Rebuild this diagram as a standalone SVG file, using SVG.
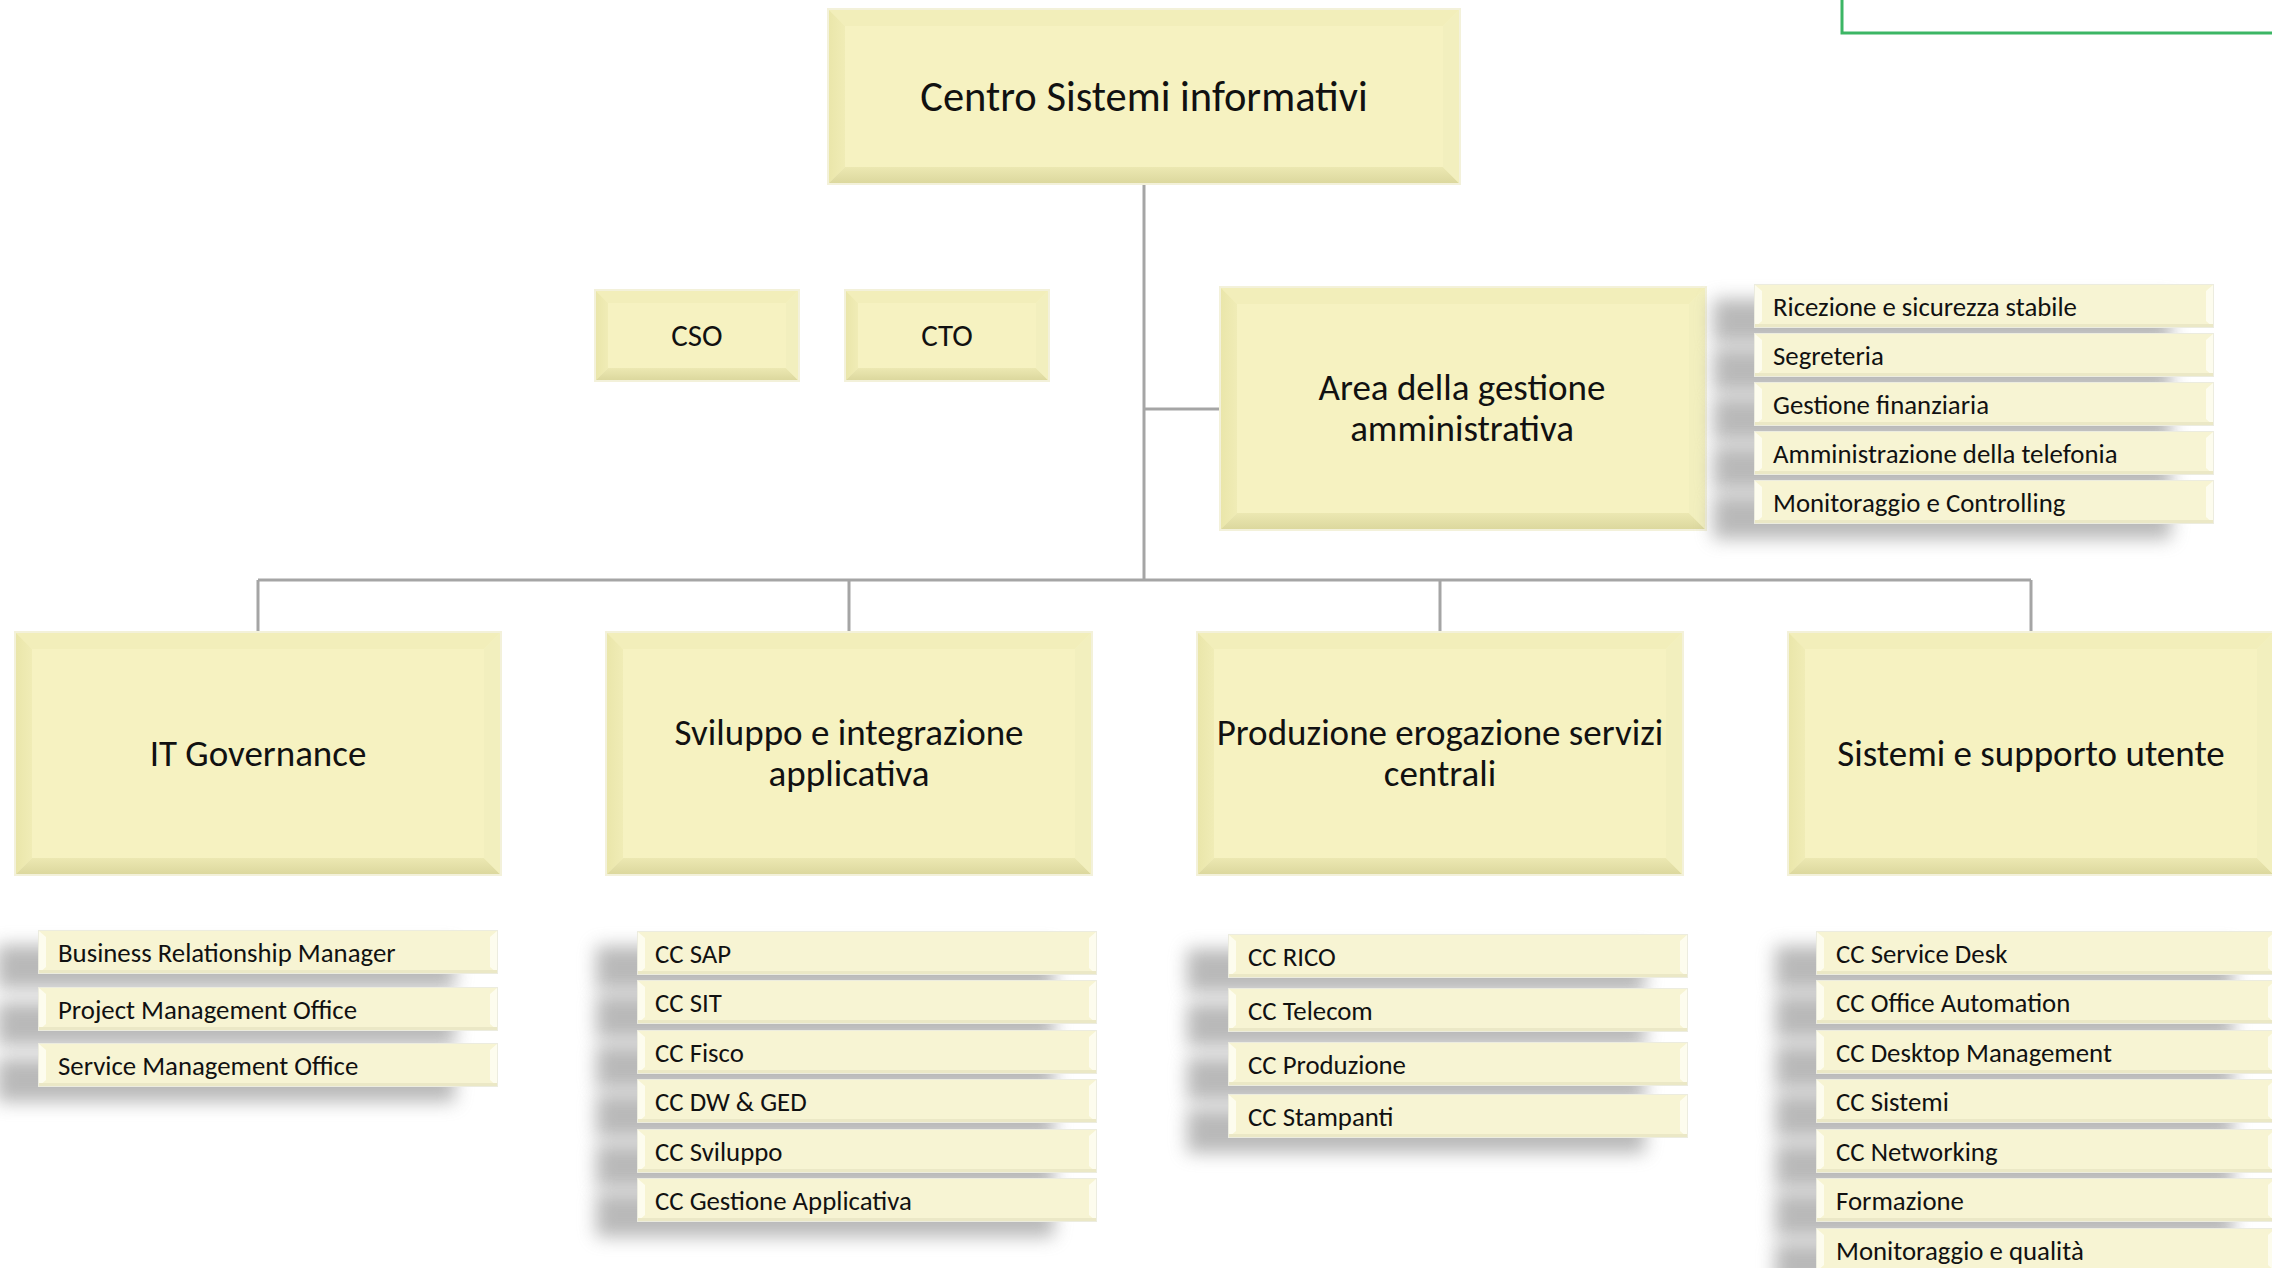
<svg xmlns="http://www.w3.org/2000/svg" xmlns:xlink="http://www.w3.org/1999/xlink" width="2272" height="1268" viewBox="0 0 2272 1268">
<style>
.t{font-family:"Carlito","Lato","Liberation Sans",sans-serif;fill:#111;}
.top{font-size:42.5px;text-anchor:middle;dominant-baseline:central;}
.h{font-size:37px;text-anchor:middle;dominant-baseline:central;}
.s{font-size:31px;text-anchor:middle;dominant-baseline:central;}
.i{font-size:26.8px;dominant-baseline:central;}
.con{stroke:#a5a5a5;stroke-width:3;fill:none;}
.shd{fill:#8a8a8a;opacity:0.6;filter:url(#blur);}
</style>
<defs>
<filter id="blur" x="-20%" y="-80%" width="140%" height="260%"><feGaussianBlur stdDeviation="9"/></filter>
<linearGradient id="lg" x1="0" x2="1" y1="0" y2="0"><stop offset="0" stop-color="#eae6aa"/><stop offset="1" stop-color="#f0ecb6"/></linearGradient>
<linearGradient id="bg" x1="0" x2="0" y1="0" y2="1"><stop offset="0" stop-color="#ece8b2"/><stop offset="1" stop-color="#dcd89e"/></linearGradient>
<g id="boxL">
<rect x="-2" y="-2" width="488" height="245" fill="#f3f1da"/>
<rect x="0" y="0" width="484" height="241" fill="#f6f2c1"/>
<polygon points="0,0 484,0 468,16 16,16" fill="#f2eeba"/>
<polygon points="0,0 16,16 16,225 0,241" fill="url(#lg)"/>
<polygon points="0,241 16,225 468,225 484,241" fill="url(#bg)"/>
<polygon points="484,0 484,241 468,225 468,16" fill="#f2efbe"/>
</g>
<g id="boxT">
<rect x="-2" y="-2" width="634" height="177" fill="#f3f1da"/>
<rect x="0" y="0" width="630" height="173" fill="#f6f2c1"/>
<polygon points="0,0 630,0 614,16 16,16" fill="#f2eeba"/>
<polygon points="0,0 16,16 16,157 0,173" fill="url(#lg)"/>
<polygon points="0,173 16,157 614,157 630,173" fill="url(#bg)"/>
<polygon points="630,0 630,173 614,157 614,16" fill="#f2efbe"/>
</g>
<g id="boxS">
<rect x="-2" y="-2" width="206" height="93" fill="#f3f1da"/>
<rect x="0" y="0" width="202" height="89" fill="#f6f2c1"/>
<polygon points="0,0 202,0 190,12 12,12" fill="#f2eeba"/>
<polygon points="0,0 12,12 12,77 0,89" fill="url(#lg)"/>
<polygon points="0,89 12,77 190,77 202,89" fill="url(#bg)"/>
<polygon points="202,0 202,89 190,77 190,12" fill="#f2efbe"/>
</g>
<g id="itemShadow">
<rect x="-42" y="14" width="458" height="44" class="shd"/>
</g>
<g id="item">
<rect x="-1" y="-1" width="460" height="44" fill="#ececdf"/>
<rect x="0" y="0" width="458" height="42" fill="#f7f4d3"/>
<polygon points="0,0 7,6 7,36 0,42" fill="#fdfcee"/>
<polygon points="458,0 451,6 451,36 458,42" fill="#fdfcee"/>
<rect x="0" y="39" width="458" height="3" fill="#ebe8c6"/>
</g>
</defs>

<rect x="1842" y="-10" width="460" height="43" fill="#ffffff" stroke="#3cb665" stroke-width="3"/>

<g id="connectors">
<path class="con" d="M1144,183 V580"/>
<path class="con" d="M1144,409 H1221"/>
<path class="con" d="M258,580 H2031"/>
<path class="con" d="M258,580 V633"/>
<path class="con" d="M849,580 V633"/>
<path class="con" d="M1440,580 V633"/>
<path class="con" d="M2031,580 V633"/>
</g>

<g id="n-centro">
<use xlink:href="#boxT" x="829" y="10"/>
<text class="t top" x="1144" y="96">Centro Sistemi informativi</text>
</g>
<g id="n-cso">
<use xlink:href="#boxS" x="596" y="291"/>
<text class="t s" x="697" y="335">CSO</text>
</g>
<g id="n-cto">
<use xlink:href="#boxS" x="846" y="291"/>
<text class="t s" x="947" y="335">CTO</text>
</g>
<g id="n-area">
<use xlink:href="#boxL" x="1221" y="288"/>
<text class="t h" x="1462" y="387">Area della gestione</text>
<text class="t h" x="1462" y="428">amministrativa</text>
</g>
<g id="l-area">
<use xlink:href="#itemShadow" x="1755" y="285"/>
<use xlink:href="#itemShadow" x="1755" y="334"/>
<use xlink:href="#itemShadow" x="1755" y="383"/>
<use xlink:href="#itemShadow" x="1755" y="432"/>
<use xlink:href="#itemShadow" x="1755" y="481"/>
<use xlink:href="#item" x="1755" y="285"/><text class="t i" x="1773" y="306">Ricezione e sicurezza stabile</text>
<use xlink:href="#item" x="1755" y="334"/><text class="t i" x="1773" y="355">Segreteria</text>
<use xlink:href="#item" x="1755" y="383"/><text class="t i" x="1773" y="404">Gestione finanziaria</text>
<use xlink:href="#item" x="1755" y="432"/><text class="t i" x="1773" y="453">Amministrazione della telefonia</text>
<use xlink:href="#item" x="1755" y="481"/><text class="t i" x="1773" y="502">Monitoraggio e Controlling</text>
</g>

<g id="n-itgov">
<use xlink:href="#boxL" x="16" y="633"/>
<text class="t h" x="258" y="753">IT Governance</text>
</g>
<g id="n-sviluppo">
<use xlink:href="#boxL" x="607" y="633"/>
<text class="t h" x="849" y="732">Sviluppo e integrazione</text>
<text class="t h" x="849" y="773">applicativa</text>
</g>
<g id="n-produzione">
<use xlink:href="#boxL" x="1198" y="633"/>
<text class="t h" x="1440" y="732">Produzione erogazione servizi</text>
<text class="t h" x="1440" y="773">centrali</text>
</g>
<g id="n-sistemi">
<use xlink:href="#boxL" x="1789" y="633"/>
<text class="t h" x="2031" y="753">Sistemi e supporto utente</text>
</g>

<g id="l-itgov">
<use xlink:href="#itemShadow" x="39" y="931"/>
<use xlink:href="#itemShadow" x="39" y="988"/>
<use xlink:href="#itemShadow" x="39" y="1044"/>
<use xlink:href="#item" x="39" y="931"/><text class="t i" x="58" y="952">Business Relationship Manager</text>
<use xlink:href="#item" x="39" y="988"/><text class="t i" x="58" y="1009">Project Management Office</text>
<use xlink:href="#item" x="39" y="1044"/><text class="t i" x="58" y="1065">Service Management Office</text>
</g>

<g id="l-sviluppo">
<use xlink:href="#itemShadow" x="638" y="932"/>
<use xlink:href="#itemShadow" x="638" y="981"/>
<use xlink:href="#itemShadow" x="638" y="1031"/>
<use xlink:href="#itemShadow" x="638" y="1080"/>
<use xlink:href="#itemShadow" x="638" y="1130"/>
<use xlink:href="#itemShadow" x="638" y="1179"/>
<use xlink:href="#item" x="638" y="932"/><text class="t i" x="655" y="953">CC SAP</text>
<use xlink:href="#item" x="638" y="981"/><text class="t i" x="655" y="1002">CC SIT</text>
<use xlink:href="#item" x="638" y="1031"/><text class="t i" x="655" y="1052">CC Fisco</text>
<use xlink:href="#item" x="638" y="1080"/><text class="t i" x="655" y="1101">CC DW &amp; GED</text>
<use xlink:href="#item" x="638" y="1130"/><text class="t i" x="655" y="1151">CC Sviluppo</text>
<use xlink:href="#item" x="638" y="1179"/><text class="t i" x="655" y="1200">CC Gestione Applicativa</text>
</g>

<g id="l-produzione">
<use xlink:href="#itemShadow" x="1229" y="935"/>
<use xlink:href="#itemShadow" x="1229" y="989"/>
<use xlink:href="#itemShadow" x="1229" y="1043"/>
<use xlink:href="#itemShadow" x="1229" y="1095"/>
<use xlink:href="#item" x="1229" y="935"/><text class="t i" x="1248" y="956">CC RICO</text>
<use xlink:href="#item" x="1229" y="989"/><text class="t i" x="1248" y="1010">CC Telecom</text>
<use xlink:href="#item" x="1229" y="1043"/><text class="t i" x="1248" y="1064">CC Produzione</text>
<use xlink:href="#item" x="1229" y="1095"/><text class="t i" x="1248" y="1116">CC Stampanti</text>
</g>

<g id="l-sistemi">
<use xlink:href="#itemShadow" x="1817" y="932"/>
<use xlink:href="#itemShadow" x="1817" y="981"/>
<use xlink:href="#itemShadow" x="1817" y="1031"/>
<use xlink:href="#itemShadow" x="1817" y="1080"/>
<use xlink:href="#itemShadow" x="1817" y="1130"/>
<use xlink:href="#itemShadow" x="1817" y="1179"/>
<use xlink:href="#itemShadow" x="1817" y="1229"/>
<use xlink:href="#item" x="1817" y="932"/><text class="t i" x="1836" y="953">CC Service Desk</text>
<use xlink:href="#item" x="1817" y="981"/><text class="t i" x="1836" y="1002">CC Office Automation</text>
<use xlink:href="#item" x="1817" y="1031"/><text class="t i" x="1836" y="1052">CC Desktop Management</text>
<use xlink:href="#item" x="1817" y="1080"/><text class="t i" x="1836" y="1101">CC Sistemi</text>
<use xlink:href="#item" x="1817" y="1130"/><text class="t i" x="1836" y="1151">CC Networking</text>
<use xlink:href="#item" x="1817" y="1179"/><text class="t i" x="1836" y="1200">Formazione</text>
<use xlink:href="#item" x="1817" y="1229"/><text class="t i" x="1836" y="1250">Monitoraggio e qualità</text>
</g>
</svg>
